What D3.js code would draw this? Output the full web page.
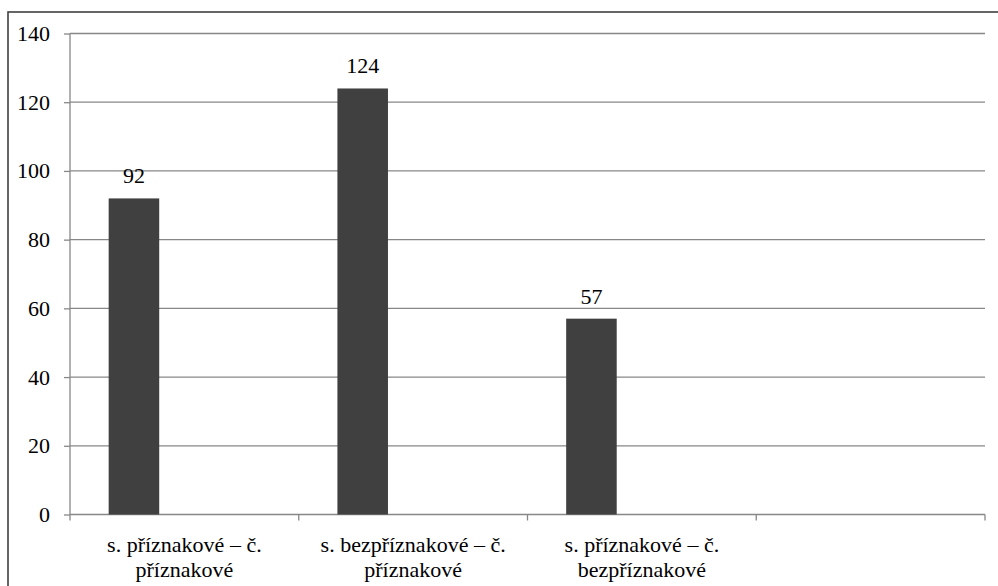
<!DOCTYPE html>
<html><head><meta charset="utf-8">
<script src="https://cdn.jsdelivr.net/npm/d3@7"></script>
</head><body style="margin:0">
<svg id="c" width="998" height="586" font-family="Liberation Serif, Tinos, serif"></svg>
<script>
const categories = [
  ["s. příznakové – č.", "příznakové"],
  ["s. bezpříznakové – č.", "příznakové"],
  ["s. příznakové – č.", "bezpříznakové"],
  ["", ""]
];
const values = [92, 124, 57, null];
const yTicks = [0, 20, 40, 60, 80, 100, 120, 140];

const FONT = '"Liberation Serif", serif';
const svg = d3.select("#c");
const mLeft = 70, mRight = 985, mTop = 33.5, mBottom = 514.5;

svg.append("rect").attr("x", 8).attr("y", 12).attr("width", 1100).attr("height", 700)
  .attr("fill", "none").attr("stroke", "#404040").attr("stroke-width", 1.6);

const x = d3.scaleBand().domain(d3.range(categories.length)).range([mLeft, mRight]).padding(0);
const y = d3.scaleLinear().domain([0, 140]).range([mBottom, mTop]);

// gridlines
svg.append("g").selectAll("line").data(yTicks.filter(d => d > 0)).join("line")
  .attr("x1", mLeft).attr("x2", mRight).attr("y1", d => y(d)).attr("y2", d => y(d))
  .attr("stroke", "#878787").attr("stroke-width", 1.3);

// y axis
const yAxis = svg.append("g").attr("transform", `translate(${mLeft},0)`)
  .call(d3.axisLeft(y).tickValues(yTicks).tickSize(6).tickPadding(14).tickFormat(d3.format("d")));
yAxis.attr("font-family", FONT).attr("font-size", 22);
yAxis.selectAll("path,line").attr("stroke", "#878787").attr("stroke-width", 1.3);
yAxis.select(".domain").attr("d", `M0,${mTop}V${mBottom}`);
yAxis.selectAll("text").style("font-family", FONT).style("font-size", "22px").attr("fill", "#000");

// x axis
const xAxisG = svg.append("g").attr("transform", `translate(0,${mBottom})`);
xAxisG.append("line").attr("x1", mLeft).attr("x2", mRight).attr("y1", 0).attr("y2", 0)
  .attr("stroke", "#878787").attr("stroke-width", 1.3);
const edges = d3.range(categories.length).map(i => x(i)).concat([x(categories.length - 1) + x.bandwidth()]);
xAxisG.selectAll("line.t").data(edges).join("line").attr("class", "t")
  .attr("x1", d => d).attr("x2", d => d).attr("y1", 0).attr("y2", 6)
  .attr("stroke", "#878787").attr("stroke-width", 1.3);

const labels = svg.append("g").selectAll("text").data(categories).join("text")
  .style("font-family", FONT).style("font-size", "22px").attr("fill", "#000")
  .attr("text-anchor", "middle");
labels.each(function(d, i) {
  const t = d3.select(this);
  d.forEach((line, k) => {
    t.append("tspan").attr("x", x(i) + x.bandwidth() / 2).attr("y", 552 + k * 25).text(line);
  });
});

// bars
const bw = x.bandwidth();
const barData = values.map((v, i) => ({v, i})).filter(d => d.v != null);
svg.append("g").selectAll("rect").data(barData).join("rect")
  .attr("x", d => x(d.i) + bw * 0.169)
  .attr("width", bw * 0.221)
  .attr("y", d => y(d.v))
  .attr("height", d => y(0) - y(d.v))
  .attr("fill", "#404040");

svg.append("g").selectAll("text").data(barData).join("text")
  .attr("x", d => x(d.i) + bw * 0.169 + bw * 0.221 / 2)
  .attr("y", d => y(d.v) - 15)
  .attr("text-anchor", "middle")
  .style("font-family", FONT).style("font-size", "22px").attr("fill", "#000")
  .text(d => d.v);
</script>
</body></html>
